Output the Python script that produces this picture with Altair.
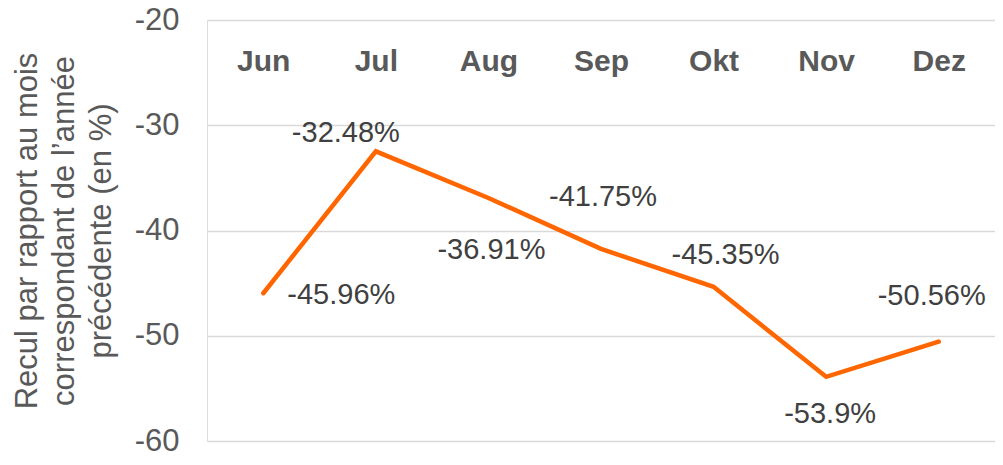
import altair as alt
import pandas as pd

months = ["Jun", "Jul", "Aug", "Sep", "Okt", "Nov", "Dez"]
values = [-45.96, -32.48, -36.91, -41.75, -45.35, -53.9, -50.56]
labels = [f"{v}%" for v in values]
y_ticks = [-60, -50, -40, -30, -20]
y_title = ["Recul par rapport au mois", "correspondant de l’année", "précédente (en %)"]

# label placement (style): month -> (align, dx, dy)
placement = {
    "Jun": ("left", 24, 2),
    "Jul": ("center", -30, -18),
    "Aug": ("center", 3, 52),
    "Sep": ("center", 2, -52),
    "Okt": ("center", 12, -32),
    "Nov": ("center", 4, 37),
    "Dez": ("center", -7, -46),
}

df = pd.DataFrame({"month": months, "value": values, "label": labels})

FONT = "Liberation Sans"

base = alt.Chart(df).encode(
    x=alt.X(
        "month:N",
        sort=months,
        title=None,
        scale=alt.Scale(padding=0.5),
        axis=alt.Axis(
            orient="top",
            offset=-41,
            labelAngle=0,
            labelFontSize=30,
            labelFontWeight="bold",
            labelColor="#595959",
            labelFont=FONT,
            labelBaseline="middle",
            labelPadding=0,
            ticks=False,
            tickSize=0,
            tickOpacity=0,
            domain=False,
            domainOpacity=0,
            grid=False,
            gridOpacity=0,
        ),
    ),
    y=alt.Y(
        "value:Q",
        scale=alt.Scale(domain=[-60, -20], nice=False, zero=False),
        title=y_title,
        axis=alt.Axis(
            values=y_ticks,
            labelExpr="toString(datum.value)",
            labelFontSize=31,
            labelColor="#595959",
            labelFont=FONT,
            labelPadding=28,
            ticks=False,
            tickSize=0,
            tickOpacity=0,
            domain=False,
            domainOpacity=0,
            grid=True,
            gridColor="#D9D9D9",
            gridWidth=1.5,
            titleFontSize=31,
            titleFont=FONT,
            titleFontWeight="normal",
            titleColor="#595959",
            titleLineHeight=37,
            titlePadding=17,
        ),
    ),
)

line = base.mark_line(color="#FF6600", strokeWidth=4.5, strokeCap="round", strokeJoin="miter")

texts = []
for m in months:
    align, dx, dy = placement[m]
    texts.append(
        base.mark_text(
            align=align, baseline="middle", dx=dx, dy=dy,
            fontSize=29, font=FONT, color="#404040",
        )
        .encode(text="label:N")
        .transform_filter(alt.datum.month == m)
    )

chart = (
    alt.layer(line, *texts)
    .properties(
        width=788,
        height=421,
        autosize=alt.AutoSizeParams(type="none"),
        padding={"left": 199, "top": 12, "right": 0, "bottom": 11},
    )
    .configure_view(strokeWidth=0, strokeOpacity=0)
    .configure_axis(domain=False, ticks=False)
    .configure(background="white")
)

chart.save("out.html", embed_options={"renderer": "svg", "actions": False})
